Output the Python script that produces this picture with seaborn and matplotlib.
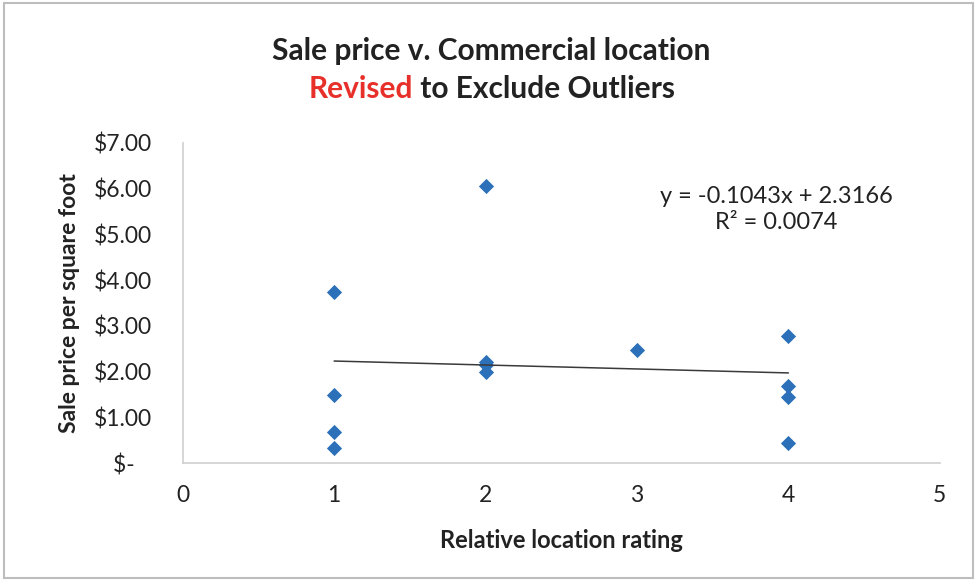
import numpy as np
import pandas as pd
import seaborn as sns
import matplotlib.pyplot as plt
from matplotlib.patches import Rectangle
from matplotlib.ticker import FuncFormatter

# Data
location_rating = [1, 1, 1, 1, 2, 2, 2, 2, 3, 4, 4, 4, 4]
price_per_sqft = [3.73, 1.48, 0.69, 0.33, 6.06, 2.20, 2.15, 2.00, 2.47, 2.78, 1.68, 1.44, 0.43]
equation_text = "y = -0.1043x + 2.3166\nR² = 0.0074"

df = pd.DataFrame({'rating': location_rating, 'price': price_per_sqft})

sns.set_style('white')
plt.rcParams['font.family'] = ['Lato', 'DejaVu Sans']

fig = plt.figure(figsize=(9.77, 5.81), dpi=100)
ax = fig.add_axes([0.187, 0.203, 0.775, 0.551])

blue = '#2B70B8'
sns.regplot(data=df, x='rating', y='price', ax=ax, ci=None, truncate=True,
            marker='D', scatter_kws={'s': 60, 'color': blue, 'linewidths': 0, 'alpha': 1},
            line_kws={'color': '#3a3a3a', 'linewidth': 1.1})

ax.set_xlim(0, 5)
ax.set_ylim(0, 7)
ax.set_xticks(range(0, 6))
ax.set_yticks(range(0, 8))
ax.yaxis.set_major_formatter(FuncFormatter(lambda v, p: '$-   ' if v == 0 else f'${v:.2f}'))
ax.tick_params(axis='both', length=0, labelsize=16.5, colors='#222222')
ax.tick_params(axis='x', pad=16)
ax.tick_params(axis='y', pad=22)

for side in ['top', 'right']:
    ax.spines[side].set_visible(False)
for side in ['left', 'bottom']:
    ax.spines[side].set_color('#cfcfcf')
    ax.spines[side].set_linewidth(1.2)

ax.set_xlabel('Relative location rating', fontsize=17, fontweight='bold', labelpad=16, color='#222222')
ax.set_ylabel('Sale price per square foot', fontsize=16.5, fontweight='bold', labelpad=10, color='#222222')

ax.text(3.92, 5.55, equation_text, ha='center', va='center', fontsize=17,
        color='#222222', linespacing=1.3)

# Title, second line partly red
fig.text(0.503, 0.913, 'Sale price v. Commercial location', ha='center', va='center',
         fontsize=21.5, fontweight='bold', color='#222222')
fig.canvas.draw()
renderer = fig.canvas.get_renderer()
t1 = fig.text(0, 0.847, 'Revised', ha='left', va='center', fontsize=21.5,
              fontweight='bold', color='#e8302a')
t2 = fig.text(0, 0.847, ' to Exclude Outliers', ha='left', va='center', fontsize=21.5,
              fontweight='bold', color='#222222')
w1 = t1.get_window_extent(renderer).width / fig.bbox.width
w2 = t2.get_window_extent(renderer).width / fig.bbox.width
start = 0.503 - (w1 + w2) / 2
t1.set_x(start)
t2.set_x(start + w1)

# Chart border
fig.patches.append(Rectangle((0.004, 0.006), 0.992, 0.988, transform=fig.transFigure,
                             fill=False, edgecolor='#bdbdbd', linewidth=1.5))

fig.savefig('out.png', dpi=100)
